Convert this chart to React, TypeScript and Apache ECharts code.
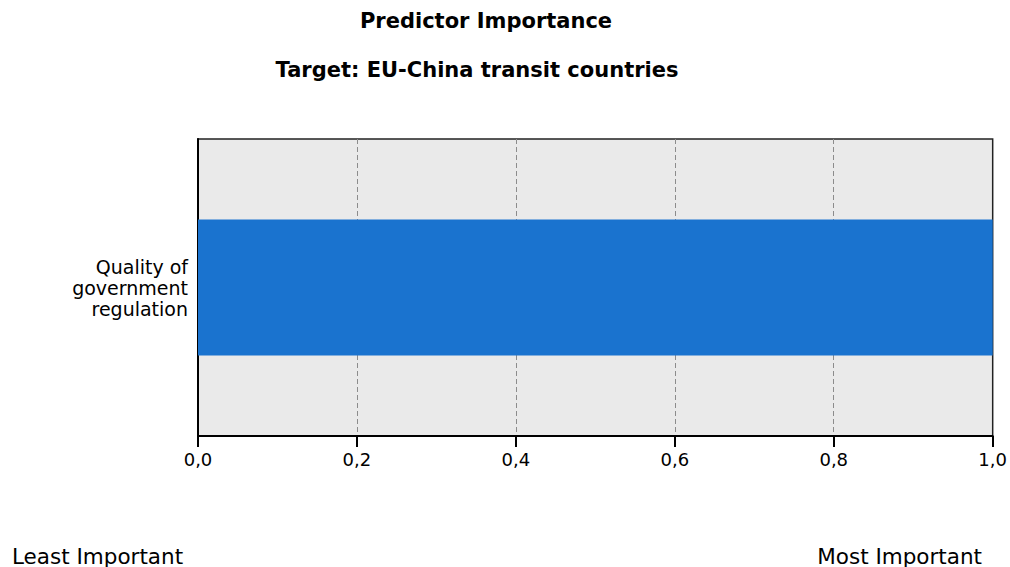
import React, { useEffect, useRef } from "react";
import * as echarts from "echarts";

const categories: string[] = ["Quality of\ngovernment\nregulation"];
const importance: number[] = [1.0];
const titleText = "Predictor Importance";
const subtitleText = "Target: EU-China transit countries";
const leftNote = "Least Important";
const rightNote = "Most Important";

export default function App() {
  const ref = useRef<HTMLDivElement>(null);
  useEffect(() => {
    if (!ref.current) return;
    const chart = echarts.init(ref.current, undefined, { renderer: "svg" });
    const font = "'DejaVu Sans', 'Liberation Sans', sans-serif";
    chart.setOption({
      animation: false,
      backgroundColor: "#ffffff",
      textStyle: { fontFamily: font },
      grid: {
        left: 198,
        right: 17,
        top: 139,
        bottom: 131,
        show: true,
        backgroundColor: "#EAEAEA",
        borderColor: "#222",
        borderWidth: 1.5,
        containLabel: false,
      },
      xAxis: {
        type: "value",
        min: 0,
        max: 1,
        interval: 0.2,
        axisLine: { show: true, lineStyle: { color: "#000", width: 2 } },
        axisTick: { show: true, length: 11, lineStyle: { color: "#000", width: 2 } },
        axisLabel: {
          color: "#000",
          fontSize: 18,
          margin: 14,
          fontFamily: font,
          formatter: (v: number) => v.toFixed(1).replace(".", ","),
        },
        splitLine: {
          show: true,
          showMinLine: false,
          showMaxLine: false,
          lineStyle: { color: "#8c8c8c", type: [5, 3], width: 1 },
        },
      },
      yAxis: {
        type: "category",
        data: categories,
        axisLine: { show: true, lineStyle: { color: "#000", width: 2 } },
        axisTick: { show: false },
        axisLabel: {
          color: "#000",
          fontSize: 19,
          lineHeight: 21,
          margin: 10,
          align: "right",
          fontFamily: font,
        },
        splitLine: { show: false },
      },
      series: [
        {
          type: "bar",
          data: importance,
          barWidth: 136,
          itemStyle: { color: "#1A73CF" },
          silent: true,
        },
      ],
      graphic: [
        {
          type: "text",
          x: 486,
          y: 21,
          style: {
            text: titleText,
            fill: "#000",
            font: `bold 21px ${font}`,
            align: "center",
            verticalAlign: "middle",
          },
        },
        {
          type: "text",
          x: 477,
          y: 70,
          style: {
            text: subtitleText,
            fill: "#000",
            font: `bold 21px ${font}`,
            align: "center",
            verticalAlign: "middle",
          },
        },
        {
          type: "text",
          x: 12,
          y: 556,
          style: {
            text: leftNote,
            fill: "#000",
            font: `21.5px ${font}`,
            align: "left",
            verticalAlign: "middle",
          },
        },
        {
          type: "text",
          x: 982,
          y: 556,
          style: {
            text: rightNote,
            fill: "#000",
            font: `21.5px ${font}`,
            align: "right",
            verticalAlign: "middle",
          },
        },
      ],
    });
    return () => chart.dispose();
  }, []);
  return (
    <div
      ref={ref}
      style={{ position: "absolute", left: 0, top: 0, width: 1010, height: 567 }}
    />
  );
}
